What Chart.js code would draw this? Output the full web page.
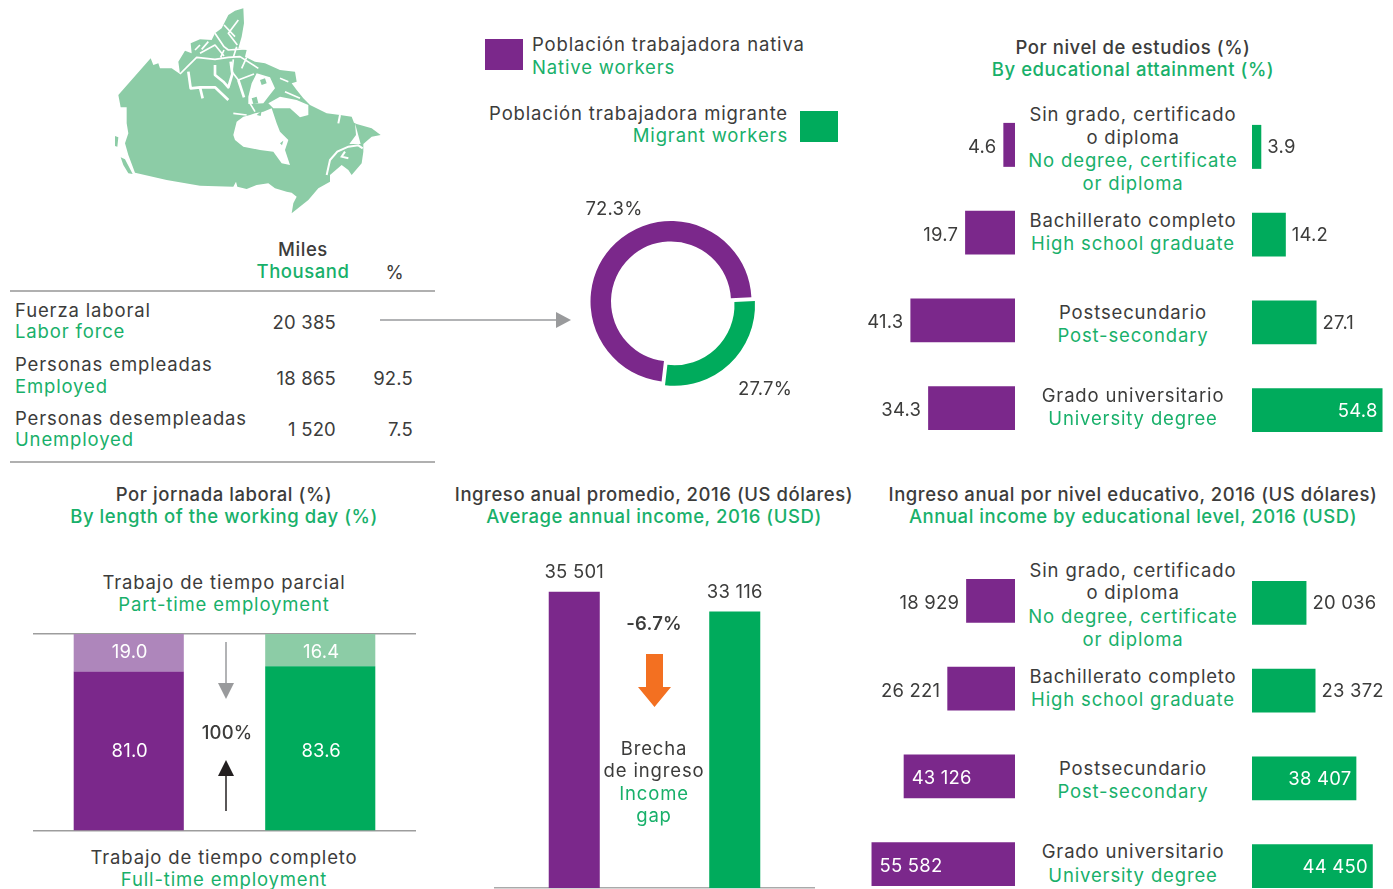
<!DOCTYPE html>
<html lang="es"><head><meta charset="utf-8"><title>Población trabajadora</title>
<script src="https://cdn.jsdelivr.net/npm/chart.js@4"></script>
<style>
html,body{margin:0;padding:0;width:1393px;height:889px;overflow:hidden;background:#fff}
#page{position:relative;width:1393px;height:889px;overflow:hidden}
canvas{position:absolute;display:block}
.t{position:absolute;white-space:nowrap;line-height:22px;height:22px;font-family:Inter,"Open Sans",sans-serif;font-size:18.5px;letter-spacing:.85px;color:#3c3c3b}
.g{color:#18b06a}
.n{letter-spacing:.2px}
.b{letter-spacing:.55px}
.r{position:absolute}
svg{position:absolute;overflow:visible}
</style></head><body><div id="page">
<svg style="left:100px;top:0" width="300" height="225" viewBox="0 0 900 675">
<path fill="#8ccca6" d="M152,175 160,195 175,190 180,205 215,205 240,222 235,185 255,152 275,160 272,130 300,118 335,120 345,100 365,85 385,45 405,32 430,25 432,70 425,110 415,145 440,150 435,170 465,185 495,190 540,210 585,215 590,245 575,250 590,270 610,295 630,315 680,340 720,345 755,350 762,368 770,372 815,385 842,405 815,410 790,432 790,455 785,490 755,525 745,510 725,495 690,525 690,545 655,565 625,600 575,640 580,610 590,590 575,578 560,575 525,565 505,550 470,555 440,567 412,560 408,545 400,560 300,557 200,540 105,518 85,465 75,430 85,400 80,370 80,322 62,322 55,285Z"/>
<path fill="#8ccca6" d="M45,408 55,412 52,440 45,438ZM62,472 75,478 98,522 85,520 70,495Z"/>
<path fill="#fff" d="M400,405 410,365 430,350 450,345 465,340 490,335 515,325 530,370 540,395 565,420 555,450 570,495 545,490 520,455 480,450 430,440 405,420Z"/>
<path fill="#fff" d="M445,290 455,250 470,220 510,232 525,265 505,290 490,310 445,312ZM505,310 540,290 590,300 625,315 625,345 600,352 570,325 520,325ZM765,370 782,432 748,432 768,405Z"/>
<path fill="#8ccca6" d="M470,345 485,332 482,348ZM540,430 550,422 546,436ZM480,240 495,235 500,250 485,255ZM455,295 470,290 475,310 460,312ZM735,440 750,432 725,445Z"/>
<path fill="none" stroke="#fff" stroke-width="8" stroke-linejoin="round" d="M265,215 272,265 300,262 345,262 385,300M345,195 345,225 370,245 385,262 397,222 392,185M300,262 308,295M415,240 432,292"/>
<path fill="none" stroke="#fff" stroke-width="5" stroke-linejoin="round" d="M240,222 262,200 290,172 345,178 385,172 420,170 475,205M400,178 396,215 415,240 462,222M300,160 345,135 372,168M345,100 372,140 385,150 440,146M405,110 372,75M415,60 385,100 412,135M325,125 305,148M300,135 285,150M440,172 425,205M400,340 440,345M450,310 465,335M372,150 362,172M410,140 400,172M540,235 565,245M555,275 600,295"/>
<path fill="none" stroke="#fff" stroke-width="6" d="M680,525 690,480 712,455 745,440 775,436 788,445M745,475 725,470 735,455M720,345 715,370"/>
</svg>
<div class="r" style="left:485px;top:39px;width:38px;height:31px;background:#7b288b"></div>
<div class="r" style="left:800px;top:111px;width:38px;height:31px;background:#00ab5c"></div>
<div class="r" style="left:10px;top:290px;width:425px;height:2px;background:#b0b0b0"></div>
<div class="r" style="left:10px;top:461px;width:425px;height:2px;background:#b0b0b0"></div>
<svg style="left:0;top:0" width="1393" height="889">
<path d="M380 320H557" stroke="#999a9c" stroke-width="1.5"/><path d="M556 312 571 320 556 328Z" fill="#999a9c"/>
<path d="M226 642V684" stroke="#999a9c" stroke-width="1.5"/><path d="M218 683H234L226 699Z" fill="#999a9c"/>
<path d="M226 775V811" stroke="#231f20" stroke-width="1.5"/><path d="M218 776H234L226 760Z" fill="#231f20"/>
<path d="M646 654H663V687H671L654.5 707 638 687H646Z" fill="#f37021"/>
</svg>
<canvas id="donut" width="180" height="181" style="left:581px;top:211px"></canvas>
<canvas id="stack" width="383" height="201" style="left:33px;top:632px"></canvas>
<canvas id="income" width="321" height="339" style="left:494px;top:550px"></canvas>
<canvas id="eduL" width="155" height="351" style="left:860px;top:101px"></canvas>
<canvas id="eduR" width="141" height="351" style="left:1252px;top:103px"></canvas>
<canvas id="incL" width="155" height="351" style="left:860px;top:557px"></canvas>
<canvas id="incR" width="141" height="351" style="left:1252px;top:559px"></canvas>
</div>
<script>
// ---- data ----
const donutLabels = ['Población trabajadora migrante','Población trabajadora nativa'];
const donutValues = [27.7, 72.3];
const jornadaGroups = ['Nativa','Migrante'];
const fullTime = [81.0, 83.6];
const partTime = [19.0, 16.4];
const incomeGroups = ['Población trabajadora nativa','Población trabajadora migrante'];
const incomeValues = [35501, 33116];
const levels = ['Sin grado','Bachillerato','Postsecundario','Universitario'];
const eduNative = [4.6, 19.7, 41.3, 34.3];
const eduMigrant = [3.9, 14.2, 27.1, 54.8];
const incomeNative = [18929, 26221, 43126, 55582];
const incomeMigrant = [20036, 23372, 38407, 44450];
const levelText = [
 [['Sin grado, certificado','o diploma'],['No degree, certificate','or diploma']],
 [['Bachillerato completo'],['High school graduate']],
 [['Postsecundario'],['Post-secondary']],
 [['Grado universitario'],['University degree']]
];
// ---- colours ----
const PURPLE='#7b288b',GREEN='#00ab5c',LPURPLE='#ae86bb',LGREEN='#8ccca6',INK='#3c3c3b';
const FONT='18.5px Inter, "Open Sans", sans-serif';
const page=document.getElementById('page');
function T(s,x,y,align,cls,weight){
  const d=document.createElement('div');d.className='t'+(cls?' '+cls:'');d.textContent=s;
  d.style.top=(y-11)+'px';
  if(align==='c'){d.style.left=x+'px';d.style.transform='translateX(-50%)';}
  else if(align==='r'){d.style.right=(1393-x)+'px';}
  else d.style.left=x+'px';
  if(weight)d.style.fontWeight=weight;
  page.appendChild(d);
}
// legend
T('Población trabajadora nativa',532,44);T('Native workers',532,67,'l','g');
T('Población trabajadora migrante',788,113,'r');T('Migrant workers',788,135,'r','g');
// titles
T('Por nivel de estudios (%)',1133,47,'c','b',500);T('By educational attainment (%)',1133,69,'c','g b',500);
T('Por jornada laboral (%)',224,494,'c','b',500);T('By length of the working day (%)',224,516,'c','g b',500);
T('Ingreso anual promedio, 2016 (US dólares)',654,494,'c','b',500);T('Average annual income, 2016 (USD)',654,516,'c','g b',500);
T('Ingreso anual por nivel educativo, 2016 (US dólares)',1133,494,'c','b',500);T('Annual income by educational level, 2016 (USD)',1133,516,'c','g b',500);
// table
T('Miles',303,249,'c','b',500);T('Thousand',303,271,'c','g b',500);T('%',395,272,'c');
[['Fuerza laboral','Labor force','20 385','',310,331,322],
 ['Personas empleadas','Employed','18 865','92.5',364,386,378],
 ['Personas desempleadas','Unemployed','1 520','7.5',418,439,429]].forEach(r=>{
  T(r[0],15,r[4]);T(r[1],15,r[5],'l','g');T(r[2],336,r[6],'r','n');if(r[3])T(r[3],413,r[6],'r','n');
});
// stacked notes
T('Trabajo de tiempo parcial',224,582,'c');T('Part-time employment',224,604,'c','g');
T('Trabajo de tiempo completo',224,857,'c');T('Full-time employment',224,879,'c','g');
T('100%',227,732,'c','n',500);
// gap notes
T('-6.7%',654,623,'c','n',600);T('Brecha',654,748,'c');T('de ingreso',654,770,'c');T('Income',654,793,'c','g');T('gap',654,815,'c','g');
// donut labels
T('72.3%',614,208,'c','n');T('27.7%',765,388,'c','n');
// level captions
[[[114,137,160,183],[220,243],[312,335],[395,418]],[[570,592,616,639],[676,699],[768,791],[851,875]]].forEach(panel=>{
  panel.forEach((ys,i)=>{
    const lines=[...levelText[i][0].map(s=>[s,'']),...levelText[i][1].map(s=>[s,'g'])];
    lines.forEach((l,j)=>T(l[0],1133,ys[j],'c',l[1]));
  });
});
const fmtThousands=v=>String(v).replace(/\B(?=(\d{3})+$)/g,' ');
const fmtDec=v=>v.toFixed(1);
function setText(ctx,color){ctx.font=FONT;ctx.fillStyle=color;ctx.textBaseline='middle';ctx.letterSpacing='0.2px';}
// value label plugin: side labels (horizontal bars)
const sideLabels={id:'sideLabels',afterDatasetsDraw(c,a,o){
  const ctx=c.ctx,m=c.getDatasetMeta(0),d=c.data.datasets[0].data;
  ctx.save();
  m.data.forEach((el,i)=>{
    const inside=d[i]>=o.insideFrom, s=o.fmt(d[i]);
    setText(ctx,inside?'#fff':INK);
    let x;
    if(o.side==='left'){
      if(inside){ctx.textAlign='left';x=el.x+o.inGap;}
      else{ctx.textAlign='right';x=el.x-o.gap;}
    }else{
      if(inside){ctx.textAlign='right';x=el.x-o.inGap;}
      else{ctx.textAlign='left';x=el.x+o.gap;}
    }
    ctx.fillText(s,x,el.y+(o.side==='left'?2.5:1));
  });
  ctx.restore();
}};
function hbar(id,values,color,side,maxV,insideFrom,fmt,inGap){
  new Chart(document.getElementById(id),{type:'bar',
    data:{labels:levels,datasets:[{data:values,backgroundColor:color,borderWidth:0,barPercentage:0.501,categoryPercentage:1}]},
    options:{indexAxis:'y',responsive:false,animation:false,events:[],layout:{padding:0},
      scales:{x:{display:false,min:0,max:maxV,reverse:side==='left'},y:{display:false}},
      plugins:{legend:{display:false},tooltip:{enabled:false},sideLabels:{side,insideFrom,fmt,gap:side==='left'?7:6,inGap}}},
    plugins:[sideLabels]});
}
hbar('eduL',eduNative,PURPLE,'left',61.2,Infinity,fmtDec,6);
hbar('eduR',eduMigrant,GREEN,'right',59.2,50,fmtDec,5);
hbar('incL',incomeNative,PURPLE,'left',60046,40000,fmtThousands,8);
hbar('incR',incomeMigrant,GREEN,'right',51895,30000,fmtThousands,5);
// donut
new Chart(document.getElementById('donut'),{type:'doughnut',
  data:{labels:donutLabels,datasets:[{data:donutValues,backgroundColor:[GREEN,PURPLE],borderWidth:0,offset:[20,0]}]},
  options:{responsive:false,animation:false,events:[],rotation:87,radius:80.5,cutout:'74.5%',layout:{padding:0},
    plugins:{legend:{display:false},tooltip:{enabled:false}}}});
// stacked
const stackLabels={id:'stackLabels',afterDatasetsDraw(c){
  const ctx=c.ctx,a=c.chartArea;ctx.save();setText(ctx,'#fff');ctx.textAlign='center';
  c.data.datasets.forEach((ds,k)=>{c.getDatasetMeta(k).data.forEach((el,i)=>{
    const y=k===0?a.bottom-80:a.top+18.5;ctx.fillText(fmtDec(ds.data[i]),el.x+1,y);});});
  ctx.restore();
}};
new Chart(document.getElementById('stack'),{type:'bar',
  data:{labels:jornadaGroups,datasets:[
    {label:'Tiempo completo',data:fullTime,backgroundColor:[PURPLE,GREEN],borderWidth:0,barPercentage:0.575,categoryPercentage:1},
    {label:'Tiempo parcial',data:partTime,backgroundColor:[LPURPLE,LGREEN],borderWidth:0,barPercentage:0.575,categoryPercentage:1}]},
  options:{responsive:false,animation:false,events:[],layout:{padding:{top:2,bottom:2}},
    scales:{x:{display:false,stacked:true},
      y:{stacked:true,min:0,max:100,border:{display:false},ticks:{display:false,stepSize:100},grid:{color:'#9d9d9d',lineWidth:1.5,drawTicks:false}}},
    plugins:{legend:{display:false},tooltip:{enabled:false}}},plugins:[stackLabels]});
// income columns
const topLabels={id:'topLabels',afterDatasetsDraw(c){
  const ctx=c.ctx,d=c.data.datasets[0].data;ctx.save();setText(ctx,INK);ctx.textAlign='center';
  c.getDatasetMeta(0).data.forEach((el,i)=>ctx.fillText(fmtThousands(d[i]),el.x,el.y-19));
  ctx.restore();
}};
new Chart(document.getElementById('income'),{type:'bar',
  data:{labels:incomeGroups,datasets:[{data:incomeValues,backgroundColor:[PURPLE,GREEN],borderWidth:0,barPercentage:0.318,categoryPercentage:1}]},
  options:{responsive:false,animation:false,events:[],layout:{padding:{bottom:1}},
    scales:{y:{display:false,min:0,max:40497},
      x:{ticks:{display:false},grid:{display:false,drawTicks:false},border:{color:'#aaaaaa',width:1.5}}},
    plugins:{legend:{display:false},tooltip:{enabled:false}}},plugins:[topLabels]});
</script></body></html>
